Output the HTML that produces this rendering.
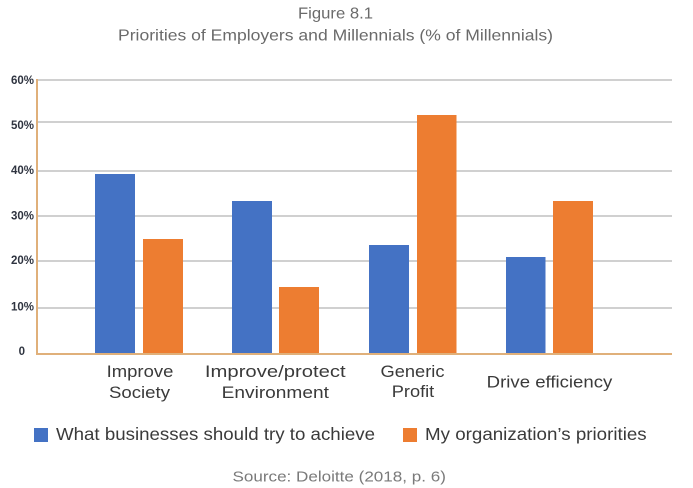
<!DOCTYPE html>
<html>
<head>
<meta charset="utf-8">
<style>
html,body{margin:0;padding:0;background:#fff;}
svg{display:block;}
text{font-family:"Liberation Sans",sans-serif;}
</style>
</head>
<body>
<svg width="693" height="488" viewBox="0 0 693 488" xmlns="http://www.w3.org/2000/svg">
<rect width="693" height="488" fill="#fff"/>
<!-- title -->
<text x="335.5" y="18.5" font-size="16" fill="#6a6a6a" text-anchor="middle" textLength="75" lengthAdjust="spacingAndGlyphs">Figure 8.1</text>
<text x="335.5" y="40.5" font-size="16" fill="#6a6a6a" text-anchor="middle" textLength="435" lengthAdjust="spacingAndGlyphs">Priorities of Employers and Millennials (% of Millennials)</text>

<!-- gridlines -->
<g stroke="#d0d0d0" stroke-width="2">
<line x1="38" y1="80" x2="672" y2="80"/>
<line x1="38" y1="122" x2="672" y2="122"/>
<line x1="38" y1="171" x2="672" y2="171"/>
<line x1="38" y1="216" x2="672" y2="216"/>
<line x1="38" y1="261" x2="672" y2="261"/>
<line x1="38" y1="308" x2="672" y2="308"/>
</g>

<!-- y tick labels -->
<g font-size="11.5" font-weight="bold" fill="#2f3440" text-anchor="end">
<text x="34" y="84">60%</text>
<text x="34" y="129">50%</text>
<text x="34" y="174">40%</text>
<text x="34" y="219.5">30%</text>
<text x="34" y="264">20%</text>
<text x="34" y="310.5">10%</text>
<text x="25" y="355">0</text>
</g>

<!-- bars -->
<g fill="#4472c4">
<rect x="95" y="174" width="40" height="180"/>
<rect x="232" y="201" width="40" height="153"/>
<rect x="369" y="245" width="40" height="109"/>
<rect x="506" y="257" width="39.5" height="97"/>
</g>
<g fill="#ed7d31">
<rect x="143" y="239" width="40" height="115"/>
<rect x="279" y="287" width="40" height="67"/>
<rect x="417" y="115" width="39.5" height="239"/>
<rect x="553" y="201" width="40" height="153"/>
</g>

<!-- axes -->
<line x1="37" y1="79" x2="37" y2="355" stroke="#e0b07a" stroke-width="2"/>
<line x1="36" y1="354" x2="672" y2="354" stroke="#e0b07a" stroke-width="2"/>

<!-- category labels -->
<g font-size="16.5" fill="#3a3a3a" text-anchor="middle">
<text x="140" y="377" textLength="66.7" lengthAdjust="spacingAndGlyphs">Improve</text>
<text x="139.5" y="398" textLength="61" lengthAdjust="spacingAndGlyphs">Society</text>
<text x="275.3" y="377" textLength="140.7" lengthAdjust="spacingAndGlyphs">Improve/protect</text>
<text x="275.3" y="398" textLength="107.3" lengthAdjust="spacingAndGlyphs">Environment</text>
<text x="412.5" y="377" textLength="64" lengthAdjust="spacingAndGlyphs">Generic</text>
<text x="413" y="397" textLength="42.5" lengthAdjust="spacingAndGlyphs">Profit</text>
<text x="549.5" y="387.5" textLength="125.6" lengthAdjust="spacingAndGlyphs">Drive efficiency</text>
</g>

<!-- legend -->
<rect x="34" y="428" width="14" height="14" fill="#4472c4"/>
<text x="56" y="440" font-size="17.5" fill="#3a3a3a" textLength="319" lengthAdjust="spacingAndGlyphs">What businesses should try to achieve</text>
<rect x="403" y="428" width="14" height="14" fill="#ed7d31"/>
<text x="425" y="440" font-size="17.5" fill="#3a3a3a" textLength="221.7" lengthAdjust="spacingAndGlyphs">My organization’s priorities</text>

<!-- source -->
<text x="339.2" y="481.5" font-size="15" fill="#7a7a7a" text-anchor="middle" textLength="213.4" lengthAdjust="spacingAndGlyphs">Source: Deloitte (2018, p. 6)</text>
</svg>
</body>
</html>
